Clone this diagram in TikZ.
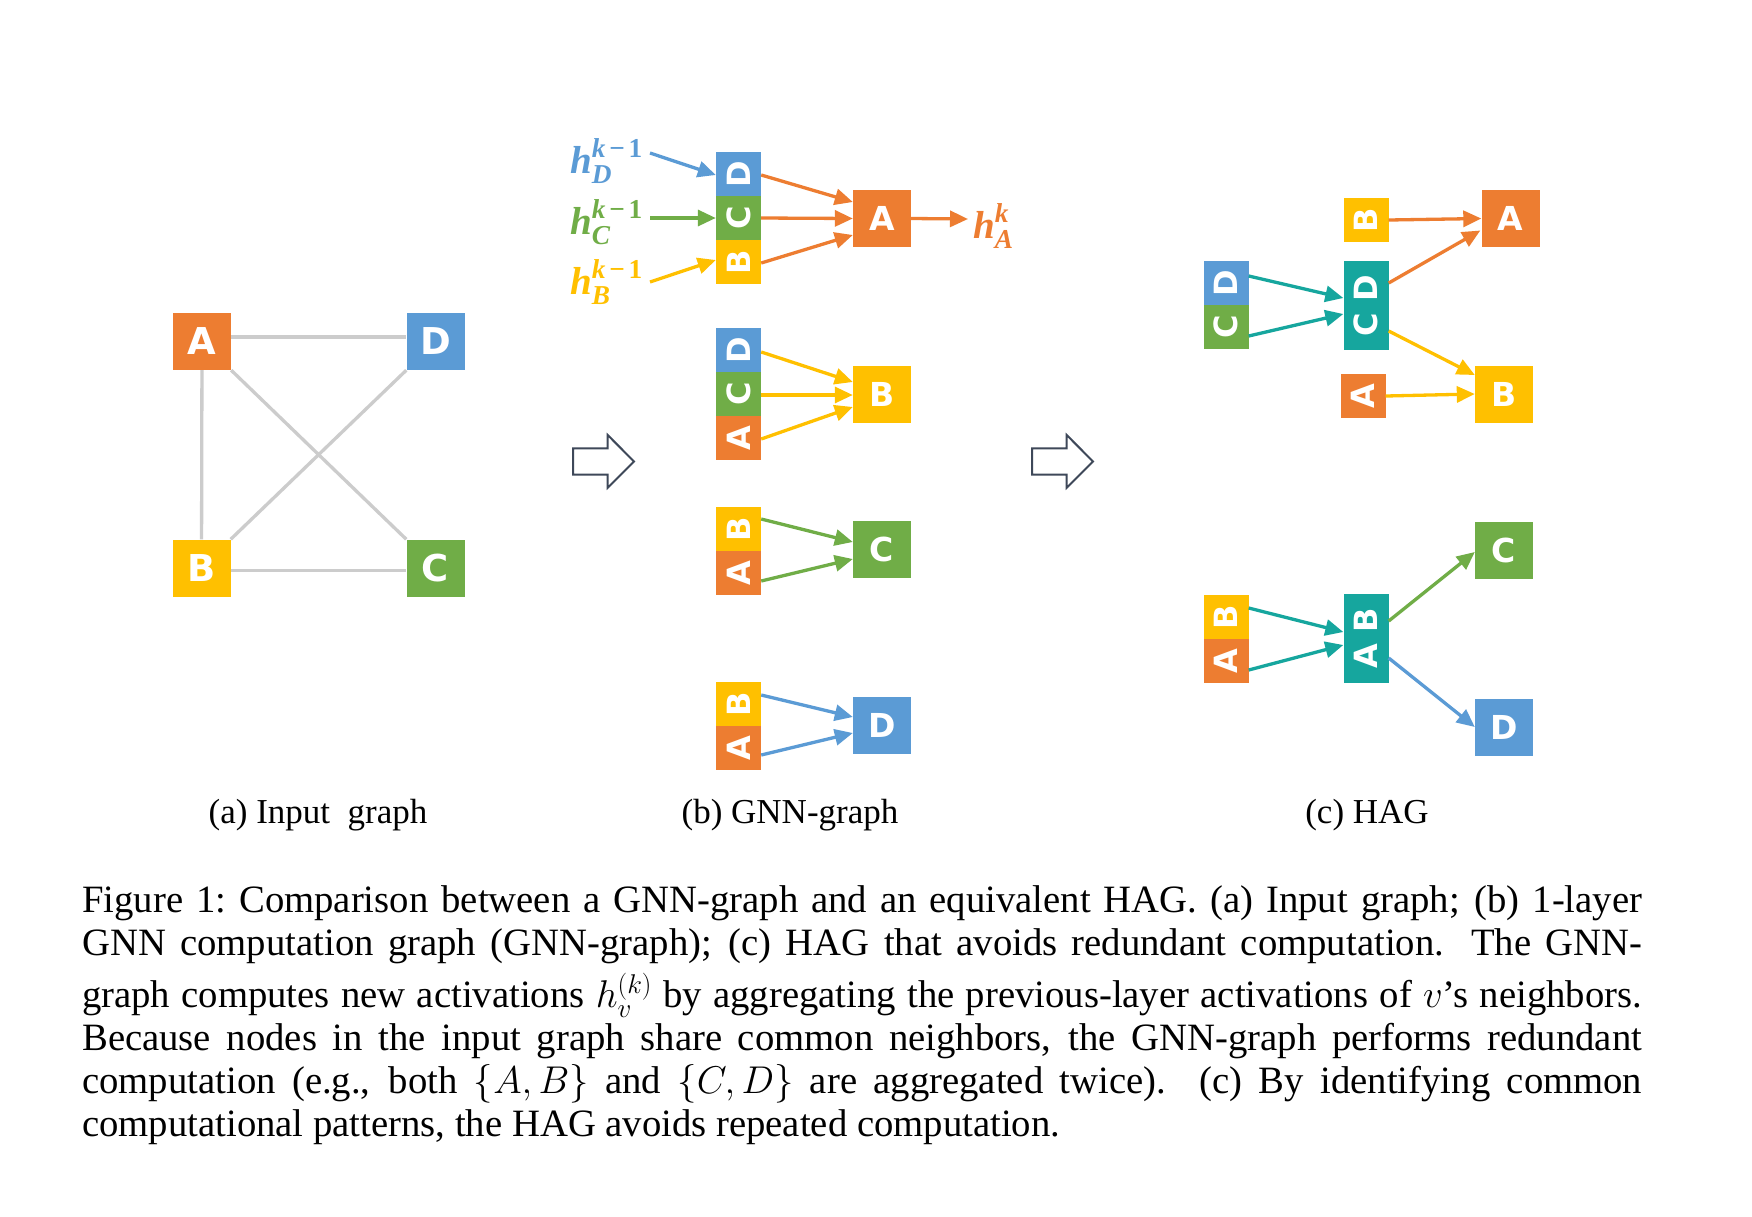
\RequirePackage{fix-cm}
\documentclass[tikz,border=0pt]{standalone}
\usepackage{amsmath,bm}
\usepackage{fontspec}
\setmainfont{Liberation Serif}
\newfontfamily\lettfont{DejaVu Sans}
\usepackage{graphicx}
\usetikzlibrary{arrows.meta,calc}
\definecolor{corange}{HTML}{ED7D31}
\definecolor{cblue}{HTML}{5B9BD5}
\definecolor{cgreen}{HTML}{70AD47}
\definecolor{cyellow}{HTML}{FFC000}
\definecolor{cteal}{HTML}{16A69E}
\definecolor{cgray}{HTML}{CCCCCC}
\definecolor{cslate}{HTML}{3E4859}
\newcommand{\bi}[1]{\textbf{\textit{#1}}}
\newcommand{\bu}[1]{\textbf{#1}}
\newcommand{\kmo}{\bi{k}\mkern2.5mu\bu{−}\mkern2.5mu\bu{1}}
\tikzset{
  bigbox/.style={rectangle, inner sep=0pt, minimum width=58pt, minimum height=57pt, text=white,
    font=\lettfont\bfseries\fontsize{33}{33}\selectfont},
  abox/.style={bigbox, font=\lettfont\bfseries\fontsize{37}{37}\selectfont},
  seg/.style={rectangle, inner sep=0pt, minimum width=45pt, minimum height=44pt, text=white,
    font=\lettfont\bfseries\fontsize{32}{32}\selectfont},
  tall/.style={seg, minimum height=89pt},
  arr/.style={line width=3.3pt, -{Triangle[length=18pt,width=16pt]}},
  gedge/.style={line width=3.3pt, draw=cgray},
  hlab/.style={inner sep=0pt, font=\fontsize{39}{42}\selectfont},
  sub/.style={inner sep=0pt, anchor=base, font=\fontsize{35}{40}\selectfont},
  blockarrow/.style={draw=cslate, line width=2pt, fill=white, line join=miter}
}
\begin{document}
\begin{tikzpicture}[x=1pt,y=-1pt]
\fill[white] (0,0) rectangle (1752,1216);
\useasboundingbox (0,0) rectangle (1752,1216);

% ---------------- (a) input graph
\node[abox, fill=corange] (aA) at (202,341.5) {A};
\node[abox, fill=cblue]   (aD) at (435.5,341.5) {D};
\node[abox, fill=cyellow] (aB) at (201.5,568) {B};
\node[abox, fill=cgreen]  (aC) at (435.5,568) {C};
\draw[gedge] ([yshift=4.5pt]aA.east) -- ([yshift=4.5pt]aD.west);
\draw[gedge] (aA) -- (aB);
\draw[gedge] ([yshift=-2.5pt]aB.east) -- ([yshift=-2.5pt]aC.west);
\draw[gedge] (aA.south east) -- (aC.north west);
\draw[gedge] (aD.south west) -- (aB.north east);

% ---------------- block arrows
\draw[blockarrow] (573,448.3) -- (607.7,448.3) -- (607.7,435) -- (634,461.5) -- (607.7,487.8) -- (607.7,474.5) -- (573,474.5) -- cycle;
\draw[blockarrow] (1032,448.3) -- (1066.7,448.3) -- (1066.7,435) -- (1093,461.5) -- (1066.7,487.8) -- (1066.7,474.5) -- (1032,474.5) -- cycle;

% ---------------- (b) GNN-graph
% group A
\node[seg, fill=cblue]   (s1D) at (738.5,174) {\rotatebox{90}{D}};
\node[seg, fill=cgreen]  (s1C) at (738.5,218) {\rotatebox{90}{C}};
\node[seg, fill=cyellow] (s1B) at (738.5,262) {\rotatebox{90}{B}};
\node[bigbox, fill=corange] (b1A) at (882,218.5) {A};
\node[hlab, text=cblue,   anchor=east] (hD) at (643,161) {$\bi{h}^{\kmo}_{\bi{D}}$};
\node[hlab, text=cgreen,  anchor=east] (hC) at (643,222) {$\bi{h}^{\kmo}_{\bi{C}}$};
\node[hlab, text=cyellow, anchor=east] (hB) at (643,282) {$\bi{h}^{\kmo}_{\bi{B}}$};
\node[hlab, text=corange, anchor=west] (hA) at (973,226) {$\bi{h}^{\bi{k}}_{\bi{A}}$};
\draw[arr, cblue]   ($(hD.east)+(7,-8)$) -- ($(s1D.west)+(0,1)$);
\draw[arr, cgreen]  ($(hC.east)+(7,-4)$) -- (s1C.west);
\draw[arr, cyellow] ($(hB.east)+(7,0)$) -- ($(s1B.west)+(0,-2)$);
\draw[arr, corange] ($(s1D.east)+(0,1)$) -- ($(b1A.west)+(0,-16.5)$);
\draw[arr, corange] (s1C.east) -- (b1A.west);
\draw[arr, corange] ($(s1B.east)+(0,1)$) -- ($(b1A.west)+(0,16.5)$);
\draw[arr, corange] (b1A.east) -- ($(hA.west)+(-5,-7)$);

% group B
\node[seg, fill=cblue]   (s2D) at (738.5,350) {\rotatebox{90}{D}};
\node[seg, fill=cgreen]  (s2C) at (738.5,394) {\rotatebox{90}{C}};
\node[seg, fill=corange] (s2A) at (738.5,438) {\rotatebox{90}{A}};
\node[bigbox, fill=cyellow] (b2B) at (882,394) {B};
\draw[arr, cyellow] ($(s2D.east)+(0,2)$) -- ($(b2B.west)+(0,-12)$);
\draw[arr, cyellow] ($(s2C.east)+(0,1)$) -- ($(b2B.west)+(0,1)$);
\draw[arr, cyellow] ($(s2A.east)+(0,1)$) -- ($(b2B.west)+(0,13)$);

% group C
\node[seg, fill=cyellow] (s3B) at (738.5,529) {\rotatebox{90}{B}};
\node[seg, fill=corange] (s3A) at (738.5,573) {\rotatebox{90}{A}};
\node[bigbox, fill=cgreen] (b3C) at (882,549) {C};
\draw[arr, cgreen] ($(s3B.east)+(0,-10)$) -- ($(b3C.west)+(0,-7)$);
\draw[arr, cgreen] ($(s3A.east)+(0,8)$) -- ($(b3C.west)+(0,10)$);

% group D
\node[seg, fill=cyellow] (s4B) at (738.5,704) {\rotatebox{90}{B}};
\node[seg, fill=corange] (s4A) at (738.5,748) {\rotatebox{90}{A}};
\node[bigbox, fill=cblue] (b4D) at (882,725.5) {D};
\draw[arr, cblue] ($(s4B.east)+(0,-9)$) -- ($(b4D.west)+(0,-8.5)$);
\draw[arr, cblue] ($(s4A.east)+(0,7)$) -- ($(b4D.west)+(0,7.5)$);

% ---------------- (c) HAG
% top
\node[seg, fill=cyellow] (cBs) at (1366,220) {\rotatebox{90}{B}};
\node[bigbox, fill=corange] (cA) at (1510.5,218.5) {A};
\node[seg, fill=cblue]  (cD) at (1226,283) {\rotatebox{90}{D}};
\node[seg, fill=cgreen] (cC) at (1226,327) {\rotatebox{90}{C}};
\node[tall, fill=cteal] (cCD) at (1366,305.5) {\rotatebox{90}{C D}};
\node[seg, fill=corange] (cAs) at (1363,396) {\rotatebox{90}{A}};
\node[bigbox, fill=cyellow] (cB) at (1504,394) {B};
\draw[arr, corange] (cBs.east) -- (cA.west);
\draw[arr, corange] ($(cCD.east)+(0,-22.5)$) -- ($(cA.west)+(-1,12)$);
\draw[arr, cyellow] ($(cCD.east)+(0,25.5)$) -- ($(cB.west)+(0,-19)$);
\draw[arr, cyellow] (cAs.east) -- (cB.west);
\draw[arr, cteal] ($(cD.east)+(0,-7)$) -- ($(cCD.west)+(0,-7.5)$);
\draw[arr, cteal] ($(cC.east)+(0,9)$) -- ($(cCD.west)+(0,8.5)$);

% bottom
\node[bigbox, fill=cgreen] (cCb) at (1504,550.5) {C};
\node[seg, fill=cyellow] (cBs2) at (1226,617) {\rotatebox{90}{B}};
\node[seg, fill=corange] (cAs2) at (1226,661) {\rotatebox{90}{A}};
\node[tall, fill=cteal] (cAB) at (1366,638.5) {\rotatebox{90}{A B}};
\node[bigbox, fill=cblue] (cDb) at (1504,727) {D};
\draw[arr, cteal] ($(cBs2.east)+(0,-9)$) -- ($(cAB.west)+(0,-6.5)$);
\draw[arr, cteal] ($(cAs2.east)+(0,9)$) -- ($(cAB.west)+(0,6.5)$);
\draw[arr, cgreen] ($(cAB.east)+(0,-17.5)$) -- ($(cCb.west)+(0,1.5)$);
\draw[arr, cblue] ($(cAB.east)+(0,19.5)$) -- (cDb.west);

% ---------------- sub captions
\node[sub] (capa) at (318,823) {(a) Input \ graph};
\node[sub] (capb) at (790,823) {(b) GNN-graph};
\node[sub] (capc) at (1367,823) {(c) HAG};

% ---------------- caption
\node[inner sep=0pt, anchor=base west] (caption) at (82,912) {\parbox[t]{1560pt}{%
\fontsize{38.7}{43}\selectfont\sfcode`\:=1000\tolerance=10000\hyphenpenalty=10000\exhyphenpenalty=50
Figure 1: Comparison between a GNN-graph and an equivalent HAG. (a) Input graph; (b) 1-layer\linebreak
GNN computation graph (GNN-graph); (c) HAG that avoids redundant computation.  The GNN-\linebreak
\rule{0pt}{43.5pt}graph computes new activations $h_v^{(k)}$ by aggregating the previous-layer activations of $v$'s neighbors.\linebreak
Because nodes in the input graph share common neighbors, the GNN-graph performs redundant\linebreak
computation (e.g., both $\{A,B\}$ and $\{C,D\}$ are aggregated twice).  (c) By identifying common\linebreak
computational patterns, the HAG avoids repeated computation.}};
\end{tikzpicture}
\end{document}
